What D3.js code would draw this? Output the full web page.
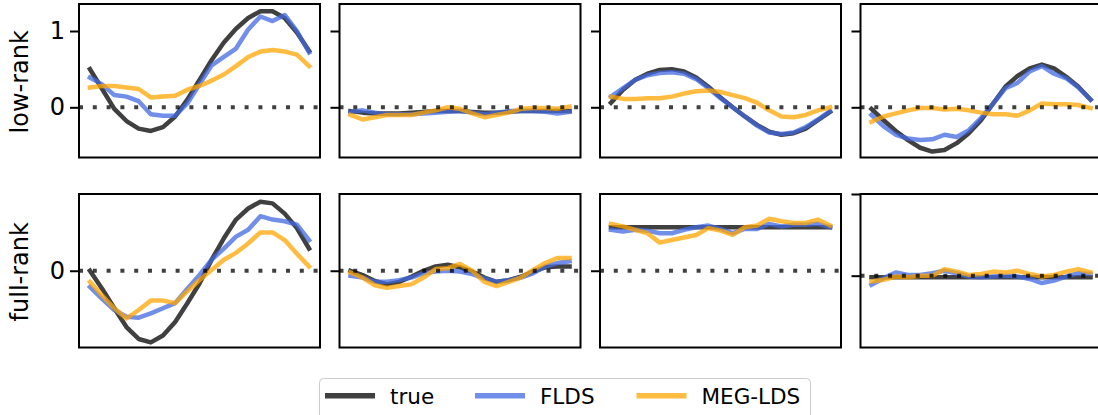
<!DOCTYPE html>
<html>
<head>
<meta charset="utf-8">
<script src="https://cdn.jsdelivr.net/npm/d3@7/dist/d3.min.js"></script>
<style>
  body { margin: 0; background: #fff; }
  text { font-family: "DejaVu Sans", sans-serif; }
</style>
</head>
<body>
<svg id="chart"></svg>
<script>
// time steps on the x axis
const steps = [0, 1, 2, 3, 4, 5, 6, 7, 8, 9, 10, 11, 12, 13, 14, 15, 16, 17, 18]
const rowNames = ["low-rank", "full-rank"]
const seriesNames = ["true", "FLDS", "MEG-LDS"]
const yTicks = [0, 1]

// low-rank row, one array per panel
const lowTrue = [
    [0.50, 0.24, -0.02, -0.18, -0.28, -0.31, -0.26, -0.12, 0.10, 0.36, 0.62, 0.85, 1.03, 1.17, 1.26, 1.26, 1.17, 0.98, 0.74],
    [-0.05, -0.07, -0.08, -0.08, -0.08, -0.07, -0.06, -0.05, -0.05, -0.05, -0.06, -0.07, -0.07, -0.06, -0.05, -0.05, -0.05, -0.05, -0.05],
    [0.06, 0.23, 0.36, 0.44, 0.49, 0.50, 0.47, 0.39, 0.27, 0.13, 0.00, -0.12, -0.23, -0.32, -0.36, -0.34, -0.28, -0.17, -0.06],
    [-0.02, -0.17, -0.31, -0.43, -0.53, -0.58, -0.56, -0.47, -0.34, -0.17, 0.05, 0.27, 0.41, 0.51, 0.56, 0.51, 0.40, 0.27, 0.10]
]
const lowFLDS = [
    [0.39, 0.30, 0.16, 0.14, 0.08, -0.09, -0.11, -0.11, 0.05, 0.30, 0.55, 0.66, 0.77, 1.02, 1.19, 1.13, 1.21, 1.00, 0.72],
    [-0.06, -0.04, -0.07, -0.09, -0.09, -0.09, -0.08, -0.07, -0.06, -0.05, -0.07, -0.09, -0.07, -0.05, -0.05, -0.05, -0.06, -0.08, -0.06],
    [0.14, 0.25, 0.36, 0.42, 0.45, 0.46, 0.44, 0.37, 0.25, 0.12, 0.00, -0.12, -0.24, -0.33, -0.35, -0.33, -0.26, -0.16, -0.05],
    [-0.10, -0.25, -0.36, -0.41, -0.43, -0.42, -0.36, -0.39, -0.30, -0.14, 0.05, 0.25, 0.32, 0.47, 0.54, 0.44, 0.38, 0.26, 0.10]
]
const lowMEG = [
    [0.26, 0.28, 0.28, 0.26, 0.24, 0.13, 0.14, 0.15, 0.23, 0.28, 0.35, 0.43, 0.54, 0.66, 0.73, 0.75, 0.73, 0.69, 0.54],
    [-0.10, -0.16, -0.13, -0.10, -0.10, -0.10, -0.07, -0.04, 0.00, -0.02, -0.08, -0.13, -0.10, -0.07, -0.02, -0.01, -0.01, -0.02, 0.01],
    [0.14, 0.11, 0.11, 0.12, 0.12, 0.14, 0.18, 0.21, 0.22, 0.20, 0.16, 0.12, 0.06, -0.04, -0.12, -0.13, -0.10, -0.04, 0.00],
    [-0.19, -0.12, -0.08, -0.04, -0.01, -0.01, -0.03, -0.02, -0.04, -0.07, -0.09, -0.09, -0.11, -0.04, 0.05, 0.04, 0.04, 0.03, -0.01]
]

// full-rank row
const fullTrue = [
    [0.00, -0.21, -0.44, -0.66, -0.80, -0.84, -0.76, -0.60, -0.38, -0.15, 0.13, 0.38, 0.60, 0.73, 0.81, 0.79, 0.67, 0.50, 0.26],
    [0.00, -0.05, -0.12, -0.16, -0.13, -0.07, 0.00, 0.05, 0.07, 0.04, -0.01, -0.08, -0.13, -0.11, -0.07, -0.01, 0.04, 0.05, 0.05],
    [0.51, 0.51, 0.51, 0.51, 0.51, 0.51, 0.51, 0.51, 0.51, 0.51, 0.51, 0.51, 0.51, 0.51, 0.51, 0.51, 0.51, 0.51, 0.51],
    [-0.02, -0.02, -0.02, -0.02, -0.02, -0.02, -0.02, -0.02, -0.02, -0.02, -0.02, -0.02, -0.02, -0.02, -0.02, -0.02, -0.02, -0.02, -0.02]
]
const fullFLDS = [
    [-0.19, -0.33, -0.46, -0.54, -0.55, -0.50, -0.44, -0.38, -0.21, -0.05, 0.13, 0.26, 0.40, 0.48, 0.64, 0.60, 0.58, 0.54, 0.36],
    [-0.06, -0.08, -0.13, -0.13, -0.11, -0.08, -0.03, -0.01, 0.00, -0.01, -0.04, -0.09, -0.13, -0.11, -0.08, -0.03, 0.05, 0.09, 0.11],
    [0.48, 0.46, 0.48, 0.47, 0.44, 0.44, 0.48, 0.51, 0.53, 0.49, 0.44, 0.49, 0.49, 0.55, 0.52, 0.54, 0.54, 0.55, 0.51],
    [-0.11, -0.03, 0.04, 0.01, 0.01, 0.03, 0.06, 0.03, -0.01, -0.02, -0.01, 0.00, -0.01, -0.04, -0.09, -0.06, -0.01, 0.03, 0.02]
]
const fullMEG = [
    [-0.13, -0.29, -0.44, -0.56, -0.46, -0.35, -0.35, -0.38, -0.24, -0.11, 0.01, 0.13, 0.21, 0.32, 0.45, 0.45, 0.36, 0.20, 0.05],
    [-0.02, -0.08, -0.17, -0.20, -0.18, -0.16, -0.08, 0.02, 0.03, 0.08, 0.00, -0.13, -0.18, -0.13, -0.08, 0.01, 0.09, 0.15, 0.15],
    [0.55, 0.52, 0.48, 0.44, 0.33, 0.36, 0.39, 0.42, 0.50, 0.47, 0.42, 0.51, 0.53, 0.61, 0.58, 0.56, 0.56, 0.60, 0.53],
    [-0.07, -0.05, -0.01, -0.02, 0.00, 0.00, 0.08, 0.05, 0.01, 0.02, 0.05, 0.04, 0.06, 0.02, -0.01, 0.01, 0.05, 0.08, 0.04]
]

const rows = [
    [lowTrue, lowFLDS, lowMEG],
    [fullTrue, fullFLDS, fullMEG]
]

// axis limits per panel (row 2, last panel has its own scale)
const yLimits = [
    [[-0.658, 1.354], [-0.658, 1.354], [-0.658, 1.354], [-0.658, 1.354]],
    [[-0.9, 0.9], [-0.9, 0.9], [-0.9, 0.9], [-0.879, 1.0]]
]

const colors = ["#000000", "#4169e1", "#ffa500"]
const lineAlpha = 0.75

const layout = {
    width: 1098, height: 415,
    left: 79, panelW: 241, gap: 19.5,
    rowTop: [4, 194], panelH: 153.5
}

const svg = d3.select("#chart")
    .attr("width", layout.width)
    .attr("height", layout.height)

svg.append("rect").attr("width", layout.width).attr("height", layout.height).attr("fill", "#fff")

const defs = svg.append("defs")

rows.forEach((rowSeries, r) => {
    const top = layout.rowTop[r]

    // row label
    svg.append("text")
        .attr("transform", `translate(28,${top + layout.panelH / 2 + 1}) rotate(-90)`)
        .attr("text-anchor", "middle")
        .style("font-size", "24px")
        .text(rowNames[r])

    for (let c = 0; c < 4; c++) {
        const x0 = layout.left + c * (layout.panelW + layout.gap)
        const x = d3.scaleLinear().domain([-0.9, 18.9]).range([x0, x0 + layout.panelW])
        const y = d3.scaleLinear().domain(yLimits[r][c]).range([top + layout.panelH, top])

        const clipId = `clip-${r}-${c}`
        defs.append("clipPath").attr("id", clipId)
            .append("rect")
            .attr("x", x0).attr("y", top)
            .attr("width", layout.panelW).attr("height", layout.panelH)

        const g = svg.append("g").attr("class", "panel")

        const line = d3.line()
            .x((d, i) => x(steps[i]))
            .y(d => y(d))

        const plot = g.append("g").attr("clip-path", `url(#${clipId})`)

        rowSeries.forEach((series, s) => {
            plot.append("path")
                .datum(series[c])
                .attr("d", line)
                .attr("fill", "none")
                .attr("stroke", colors[s])
                .attr("stroke-opacity", lineAlpha)
                .attr("stroke-width", 4.5)
                .attr("stroke-linejoin", "round")
                .attr("stroke-linecap", "square")
        })

        // dotted zero line
        plot.append("line")
            .attr("x1", x0).attr("x2", x0 + layout.panelW)
            .attr("y1", y(0)).attr("y2", y(0))
            .attr("stroke", "#000")
            .attr("stroke-opacity", 0.75)
            .attr("stroke-width", 4)
            .attr("stroke-dasharray", "4 9.8")

        // y axis ticks (labels only in first column)
        const dom = yLimits[r][c]
        const axis = d3.axisLeft(y)
            .tickValues(yTicks.filter(t => t >= dom[0] - 1e-6 && t <= dom[1] + 1e-6))
            .tickSize(9)
            .tickPadding(5)
            .tickFormat(c === 0 ? d3.format("d") : () => "")

        const ax = g.append("g")
            .attr("transform", `translate(${x0},0)`)
            .call(axis)
        ax.select(".domain").remove()
        ax.selectAll(".tick line").attr("stroke", "#000").attr("stroke-width", 2)
        ax.selectAll(".tick text")
            .attr("fill", "#000")
            .style("font-size", "24px")
            .style("font-family", "DejaVu Sans, sans-serif")

        // frame
        g.append("rect")
            .attr("x", x0).attr("y", top)
            .attr("width", layout.panelW).attr("height", layout.panelH)
            .attr("fill", "none")
            .attr("stroke", "#000")
            .attr("stroke-width", 2)
    }
})

// legend
const legend = svg.append("g").attr("class", "legend")
legend.append("rect")
    .attr("x", 319.5).attr("y", 378.5)
    .attr("width", 491).attr("height", 60)
    .attr("rx", 4)
    .attr("fill", "#fff")
    .attr("stroke", "#cccccc")
    .attr("stroke-width", 1)

const legendX = [325, 475, 636.5]
seriesNames.forEach((name, s) => {
    legend.append("line")
        .attr("x1", legendX[s]).attr("x2", legendX[s] + 50)
        .attr("y1", 395.7).attr("y2", 395.7)
        .attr("stroke", colors[s])
        .attr("stroke-opacity", lineAlpha)
        .attr("stroke-width", 5.5)
    legend.append("text")
        .attr("x", legendX[s] + 65)
        .attr("y", 404)
        .style("font-size", "21.5px")
        .text(name)
})
</script>
</body>
</html>
